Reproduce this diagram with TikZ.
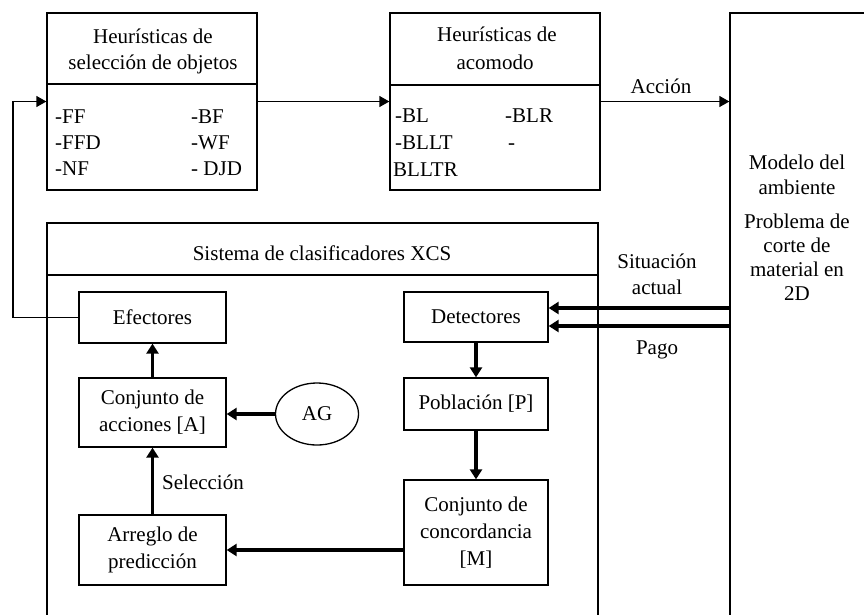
\documentclass[tikz,border=0pt]{standalone}
\usepackage{fontspec}
\setmainfont{Liberation Serif}
\usetikzlibrary{arrows.meta,shapes.geometric}
\begin{document}
\begin{tikzpicture}[x=1pt,y=-1pt,
  font=\fontsize{21}{27}\selectfont,
  box/.style={draw,line width=1.3pt,inner sep=0pt,align=center},
  txt/.style={inner sep=0pt,anchor=base},
  itm/.style={inner sep=0pt,anchor=base west},
  thinarrow/.style={line width=1.3pt,-{Triangle[length=10pt,width=11pt]}},
  thickarrow/.style={line width=3.2pt,-{Triangle[length=10pt,width=12pt]}}]
\clip (0,0) rectangle (864,614);
% top-left box
\node[box,minimum width=210,minimum height=177] (hsel) at (152,101.5) {};
\draw[line width=1.3pt] (hsel.west |- 0,84) -- (hsel.east |- 0,84);
\node[txt] (hs1) at (153,43) {Heurísticas de};
\node[txt] (hs2) at (153,69) {selección de objetos};
\node[itm] (i1) at (55,123) {-FF};
\node[itm] (i2) at (55,149) {-FFD};
\node[itm] (i3) at (55,175) {-NF};
\node[itm] (i4) at (191,123) {-BF};
\node[itm] (i5) at (191,149) {-WF};
\node[itm] (i6) at (191,175) {- DJD};
% top-middle box
\node[box,minimum width=210,minimum height=177] (haco) at (495,101.5) {};
\draw[line width=1.3pt] (haco.west |- 0,85) -- (haco.east |- 0,85);
\node[txt] (ha1) at (497,41) {Heurísticas de};
\node[txt] (ha2) at (495,69) {acomodo};
\node[itm] (j1) at (395,122) {-BL};
\node[itm] (j2) at (395,149) {-BLLT};
\node[itm] (j3) at (393,176) {BLLTR};
\node[itm] (j4) at (505,122) {-BLR};
\node[itm] (j5) at (508,149) {-};
% environment box
\node[box,minimum width=200,minimum height=700] (env) at (830,363) {};
\node[txt] (e1) at (797,169) {Modelo del};
\node[txt] (e2) at (797,194) {ambiente};
\node[txt] (e3) at (797,228) {Problema de};
\node[txt] (e4) at (797,252) {corte de};
\node[txt] (e5) at (797,276) {material en};
\node[txt] (e6) at (797,300) {2D};
% XCS box
\node[box,minimum width=551,minimum height=500] (xcs) at (322.5,473) {};
\draw[line width=1.3pt] (xcs.west |- 0,275) -- (xcs.east |- 0,275);
\node[txt] (xt) at (322,260) {Sistema de clasificadores XCS};
% inner boxes
\node[box,minimum width=147,minimum height=51] (efe) at (152.5,317.5) {Efectores};
\node[box,minimum width=147,minimum height=69] (acc) at (152.5,412.5) {Conjunto de\\acciones [A]};
\node[box,minimum width=147,minimum height=70] (arr) at (152.5,550) {Arreglo de\\predicción};
\node[draw,ellipse,line width=1.3pt,inner sep=0pt,minimum width=83,minimum height=62] (ag) at (317,414) {AG};
\node[box,minimum width=144,minimum height=50] (det) at (476,317) {Detectores};
\node[box,minimum width=144,minimum height=52] (pob) at (476,404) {Población [P]};
\node[box,minimum width=144,minimum height=105] (con) at (476,532.5) {Conjunto de\\concordancia\\{}[M]};
% labels
\node[txt] (lacc) at (661,93) {Acción};
\node[txt] (lsit1) at (657,268) {Situación};
\node[txt] (lsit2) at (657,294) {actual};
\node[txt] (lpag) at (657,354) {Pago};
\node[txt] (lsel) at (203,489) {Selección};
% connectors
\draw[thinarrow] (hsel.east) -- (haco.west);
\draw[thinarrow] (haco.east) -- (haco.east -| env.west);
\coordinate (fb) at (13,200);
\draw[thinarrow] (efe.west) -| (fb) |- (hsel.west);
\coordinate (d1) at ([yshift=9pt]det.east);
\coordinate (d2) at ([yshift=-9pt]det.east);
\draw[thickarrow] (d1 -| env.west) -- (d1);
\draw[thickarrow] (d2 -| env.west) -- (d2);
\draw[thickarrow] (det.south) -- (pob.north);
\draw[thickarrow] (pob.south) -- (con.north);
\draw[thickarrow] (con.west |- arr.east) -- (arr.east);
\draw[thickarrow] (arr.north) -- (acc.south);
\draw[thickarrow] (acc.north) -- (efe.south);
\draw[thickarrow] (ag.west) -- (ag.west -| acc.east);
\end{tikzpicture}
\end{document}
